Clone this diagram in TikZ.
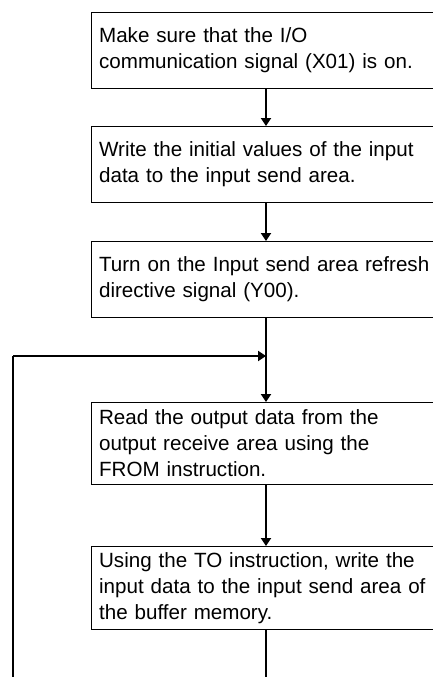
\documentclass[tikz,border=0pt]{standalone}
\usepackage{fontspec}
\setmainfont{Liberation Sans}
\usetikzlibrary{arrows.meta}
\begin{document}
\begin{tikzpicture}[x=1pt,y=-1pt,
  stepbox/.style={draw=black,line width=1.2pt,anchor=north west,minimum width=380pt,
    inner xsep=7.5pt,inner ysep=0pt,align=left,
    font=\fontsize{20.6pt}{26pt}\selectfont,text width=365pt},
  flow/.style={line width=1.8pt},
  arr/.style={flow,-{Triangle[length=8pt,width=10pt]}}]
\useasboundingbox (0,0) rectangle (433,677);
\clip (0,0) rectangle (433,677);
\coordinate (spine) at (266,0);
\coordinate (leftrail) at (13,0);
\node[stepbox,minimum height=76pt] (b1) at (91,12) {Make sure that the I/O\\communication signal (X01) is on.};
\node[stepbox,minimum height=76pt] (b2) at (91,126) {Write the initial values of the input\\data to the input send area.};
\node[stepbox,minimum height=76pt] (b3) at (91,241) {Turn on the Input send area refresh\\directive signal (Y00).};
\node[stepbox,minimum height=82pt] (b4) at (91,402) {Read the output data from the\\output receive area using the\\FROM instruction.};
\node[stepbox,minimum height=83pt] (b5) at (91,546) {Using the TO instruction, write the\\input data to the input send area of\\the buffer memory.};
\coordinate (bend) at (266,356);
\coordinate (bottomR) at (266,690);
\coordinate (bottomL) at (13,690);
\coordinate (loopL) at (13,356);
\draw[arr] (b1.south -| spine) -- (b2.north -| spine);
\draw[arr] (b2.south -| spine) -- (b3.north -| spine);
\draw[arr] (b3.south -| spine) -- (b4.north -| spine);
\draw[arr] (b4.south -| spine) -- (b5.north -| spine);
\draw[flow] (b5.south -| spine) -- (bottomR);
\draw[flow] (bottomL) -- (loopL);
\draw[arr] (loopL) -- (bend);
\end{tikzpicture}
\end{document}
